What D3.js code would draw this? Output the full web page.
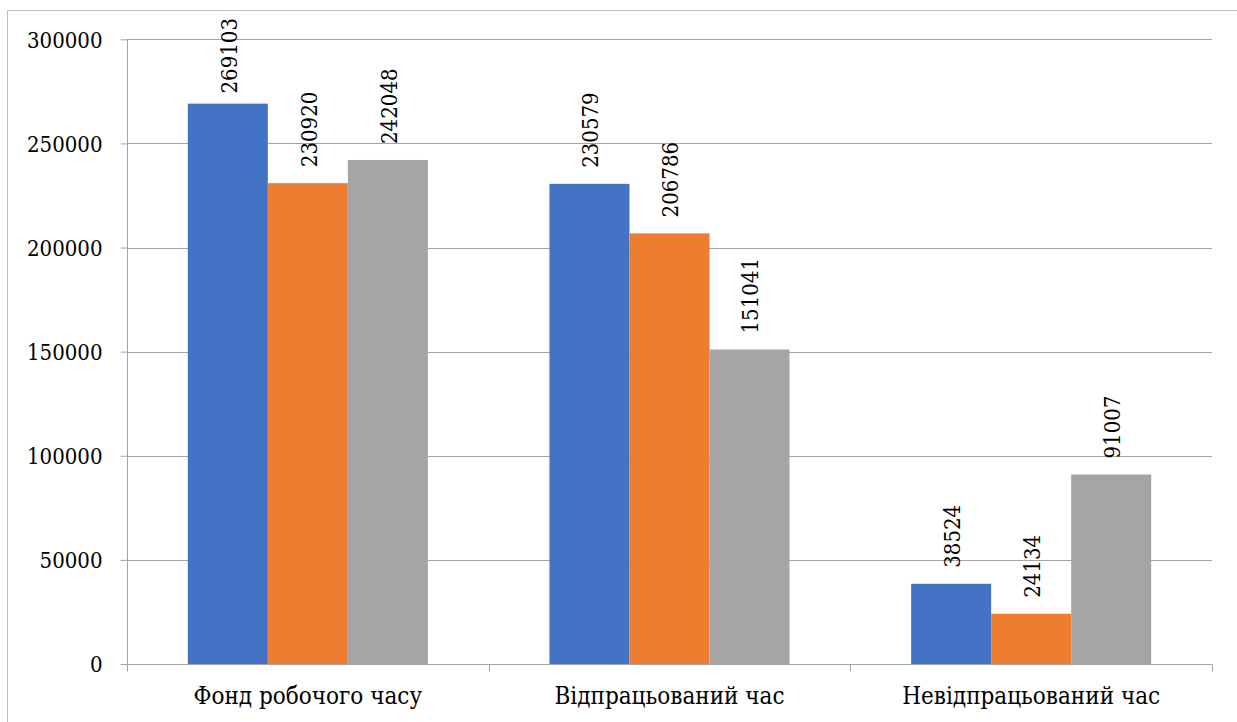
<!DOCTYPE html>
<html>
<head>
<meta charset="utf-8">
<script src="https://cdn.jsdelivr.net/npm/d3@7"></script>
<style>
  html, body { margin: 0; padding: 0; background: #fff; }
  svg { display: block; }
  svg text { font-family: "DejaVu Serif Condensed", "DejaVu Serif", serif; font-stretch: condensed; fill: #000; }
</style>
</head>
<body>
<svg id="chart" width="1237" height="722"></svg>
<script>
// Working-time fund by category, three periods
const categories = ["Фонд робочого часу", "Відпрацьований час", "Невідпрацьований час"];
const seriesNames = ["s1", "s2", "s3"];
const series1 = [269103, 230579, 38524];
const series2 = [230920, 206786, 24134];
const series3 = [242048, 151041, 91007];
const yTicks = [0, 50000, 100000, 150000, 200000, 250000, 300000];
const colors = ["#4472C4", "#ED7D31", "#A5A5A5"];

const allSeries = [series1, series2, series3];
const rows = categories.map((c, i) => ({
  category: c,
  values: allSeries.map((s, j) => ({ key: seriesNames[j], idx: j, value: s[i] }))
}));

const svg = d3.select("#chart");
const W = 1237, H = 722;
const plot = { left: 127, right: 1212, top: 39.3, bottom: 664 };

// Outer chart frame (extends past the right/bottom edges)
svg.append("rect")
  .attr("x", 7.5).attr("y", 10.5)
  .attr("width", W + 20).attr("height", H + 20)
  .attr("fill", "none").attr("stroke", "#bdbdbd").attr("stroke-width", 1);

const x0 = d3.scaleBand().domain(categories).range([plot.left, plot.right]).paddingInner(0).paddingOuter(0);
const x1 = d3.scaleBand().domain(seriesNames).range([0, x0.bandwidth()]).paddingInner(0).paddingOuter(0.76);
const y = d3.scaleLinear().domain([0, 300000]).range([plot.bottom, plot.top]);

const gridColor = "#a3a3a3";
const fontSize = 22;
const catFontSize = 24;

// Horizontal gridlines
svg.append("g")
  .selectAll("line")
  .data(yTicks.filter(t => t > 0))
  .join("line")
  .attr("x1", plot.left).attr("x2", plot.right)
  .attr("y1", d => Math.round(y(d)) + 0.5).attr("y2", d => Math.round(y(d)) + 0.5)
  .attr("stroke", gridColor).attr("stroke-width", 1);

// Bars
const groups = svg.append("g")
  .selectAll("g")
  .data(rows)
  .join("g")
  .attr("transform", d => `translate(${x0(d.category)},0)`);

groups.selectAll("rect")
  .data(d => d.values)
  .join("rect")
  .attr("x", d => x1(d.key))
  .attr("width", x1.bandwidth())
  .attr("y", d => y(d.value))
  .attr("height", d => y(0) - y(d.value))
  .attr("fill", d => colors[d.idx]);

// Y axis
const yAxis = d3.axisLeft(y).tickValues(yTicks).tickSize(7).tickPadding(18).tickFormat(d3.format("d"));
const gy = svg.append("g").attr("transform", `translate(${plot.left + 0.5},0)`).call(yAxis);
gy.attr("font-size", fontSize).attr("font-family", null);
gy.select(".domain").attr("stroke", gridColor).attr("d", `M0,${plot.top}V${plot.bottom}`);
gy.selectAll(".tick line").attr("stroke", gridColor);
gy.selectAll(".tick text").attr("fill", "#000").attr("dy", "0.36em");

// X axis: tick marks at the category boundaries
const bottomY = Math.round(plot.bottom) + 0.5;
const boundaries = categories.map(c => x0(c)).concat([plot.right]);
const gx = svg.append("g");
gx.append("line")
  .attr("x1", plot.left).attr("x2", plot.right)
  .attr("y1", bottomY).attr("y2", bottomY)
  .attr("stroke", gridColor);
gx.selectAll("line.tk")
  .data(boundaries)
  .join("line")
  .attr("class", "tk")
  .attr("x1", d => Math.round(d) + 0.5).attr("x2", d => Math.round(d) + 0.5)
  .attr("y1", bottomY).attr("y2", bottomY + 7)
  .attr("stroke", gridColor);
gx.selectAll("text")
  .data(categories)
  .join("text")
  .attr("x", d => x0(d) + x0.bandwidth() / 2)
  .attr("y", 704)
  .attr("text-anchor", "middle")
  .attr("font-size", catFontSize)
  .text(d => d);

// Rotated value labels above each bar, kept inside the chart frame
const labelTopLimit = 18;
groups.selectAll("text")
  .data(d => d.values)
  .join("text")
  .attr("font-size", fontSize)
  .attr("text-anchor", "start")
  .attr("dy", "0.4em")
  .text(d => d.value)
  .each(function (d) {
    const len = this.getComputedTextLength();
    const cx = x1(d.key) + x1.bandwidth() / 2;
    const startY = Math.max(y(d.value) - 16, labelTopLimit + len);
    d3.select(this).attr("transform", `translate(${cx},${startY}) rotate(-90)`);
  });
</script>
</body>
</html>
